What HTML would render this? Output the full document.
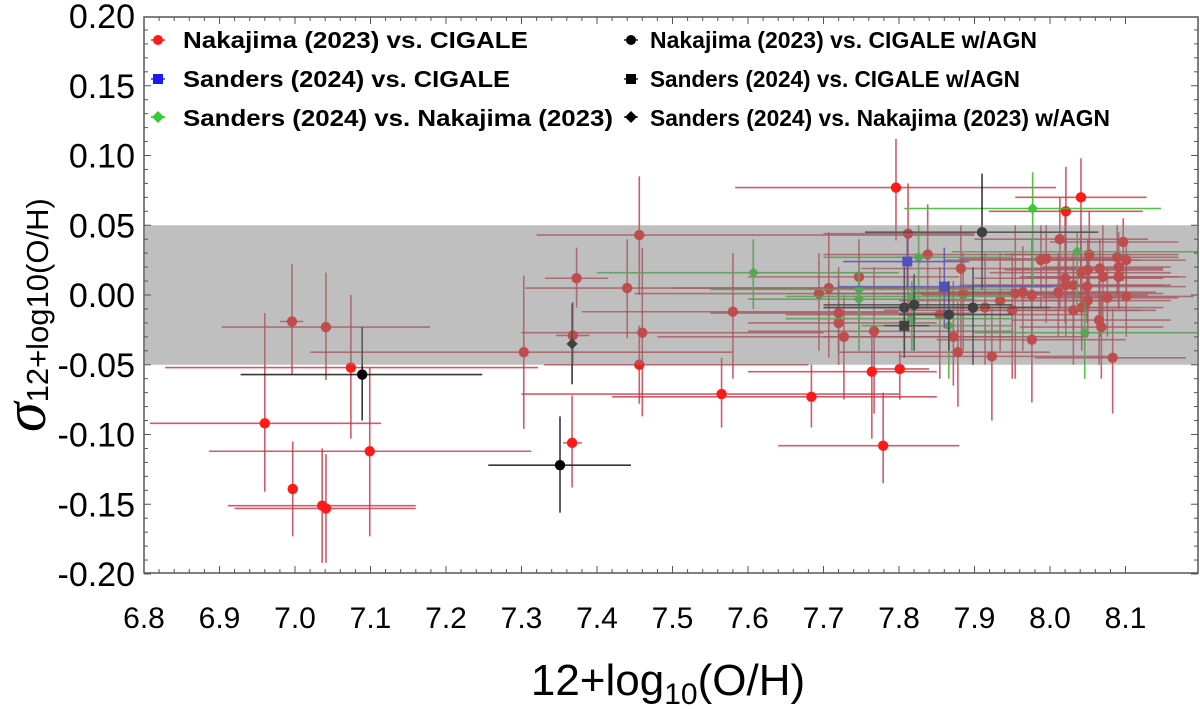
<!DOCTYPE html>
<html><head><meta charset="utf-8">
<style>
html,body{margin:0;padding:0;background:#fff;}
svg{display:block;font-family:"Liberation Sans",sans-serif;}
</style></head>
<body>
<svg id="chart" width="1200" height="709" viewBox="0 0 1200 709" xmlns="http://www.w3.org/2000/svg">
  <g id="marks"></g>
  <rect id="band" fill="rgba(128,128,128,0.5)"></rect>
  <g id="axes"></g>
  <g id="legend" font-weight="bold" font-size="23" fill="#000">
    <g>
      <line x1="151" y1="40" x2="165" y2="40" stroke="#c83040" stroke-width="1.5"/><circle cx="158" cy="40" r="5" fill="#ff1a1a"/>
      <text x="183" y="48" textLength="345" lengthAdjust="spacingAndGlyphs">Nakajima (2023) vs. CIGALE</text></g>
    <g>
      <line x1="151" y1="79" x2="165" y2="79" stroke="#3030c0" stroke-width="1.5"/><rect x="153" y="74" width="10" height="10" fill="#1a1aff"/>
      <text x="183" y="87" textLength="327" lengthAdjust="spacingAndGlyphs">Sanders (2024) vs. CIGALE</text></g>
    <g>
      <line x1="151" y1="117" x2="165" y2="117" stroke="#30b030" stroke-width="1.5"/><polygon points="158,111 164,117 158,123 152,117" fill="#33cc33"/>
      <text x="183" y="126" textLength="430" lengthAdjust="spacingAndGlyphs">Sanders (2024) vs. Nakajima (2023)</text></g>
    <g>
      <line x1="624" y1="40" x2="638" y2="40" stroke="#222" stroke-width="1.5"/><circle cx="631" cy="40" r="5" fill="#000"/>
      <text x="650" y="48" textLength="387" lengthAdjust="spacingAndGlyphs">Nakajima (2023) vs. CIGALE w/AGN</text></g>
    <g>
      <line x1="624" y1="79" x2="638" y2="79" stroke="#222" stroke-width="1.5"/><rect x="626" y="74" width="10" height="10" fill="#000"/>
      <text x="650" y="87" textLength="370" lengthAdjust="spacingAndGlyphs">Sanders (2024) vs. CIGALE w/AGN</text></g>
    <g>
      <line x1="624" y1="117" x2="638" y2="117" stroke="#222" stroke-width="1.5"/><polygon points="631,111 637,117 631,123 625,117" fill="#000"/>
      <text x="650" y="126" textLength="460" lengthAdjust="spacingAndGlyphs">Sanders (2024) vs. Nakajima (2023) w/AGN</text></g>
  </g>
  <text x="668" y="695" text-anchor="middle" font-size="44">12+log<tspan font-size="30" dy="9">10</tspan><tspan dy="-9">(O/H)</tspan></text>
  <text transform="translate(45,432) rotate(-90)" font-size="31"><tspan font-size="60" font-style="italic" font-family="Liberation Serif, serif">σ</tspan><tspan dy="3">12+log10(O/H)</tspan></text>
</svg>
<script>
// ---- data ----
const nakX  = [6.996,7.041,7.074,6.960,7.099,6.997,7.036,7.041,7.303,7.373,7.368,7.367,7.440,7.456,7.460,7.456,
  7.580,7.694,7.707,7.747,7.720,7.720,7.727,7.767,7.838,7.882,7.885,7.854,7.872,7.878,7.914,7.934,7.950,7.954,7.964,7.976,7.976,7.923,7.988,7.995,8.013,8.011,8.020,8.021,8.031,8.031,8.041,8.050,8.052,8.042,8.049,8.050,8.066,8.070,8.076,8.065,8.068,8.089,8.091,8.097,8.101,8.091,8.101,8.083,7.812,
  7.796,8.041,8.021,7.565,7.684,7.764,7.801,7.779];
const nakY  = [-0.019,-0.023,-0.052,-0.092,-0.112,-0.139,-0.151,-0.153,-0.041,0.012,-0.029,-0.106,0.005,0.043,-0.027,-0.050,
  -0.012,0.001,0.005,0.013,-0.013,-0.020,-0.030,-0.026,0.029,0.019,0.001,-0.014,-0.030,-0.041,-0.009,-0.004,-0.011,0.001,0.002,0.000,-0.032,-0.044,0.025,0.026,0.040,0.002,0.012,0.007,0.007,-0.011,0.016,0.018,0.029,-0.009,0.006,-0.004,0.019,0.013,-0.002,-0.018,-0.023,0.027,0.020,0.038,0.025,0.013,-0.001,-0.045,0.044,
  0.077,0.070,0.060,-0.071,-0.073,-0.055,-0.053,-0.108];
const nakXlo = [6.980,6.903,6.828,6.808,6.886,6.992,6.911,6.920,7.020,7.331,7.346,7.355,7.305,7.320,7.300,7.330,
  7.380,7.450,7.500,7.600,7.550,7.600,7.480,7.600,7.700,7.750,7.700,7.650,7.700,7.720,7.700,7.800,7.780,7.780,7.820,7.830,7.850,7.800,7.860,7.880,7.900,7.850,7.900,7.880,7.900,7.920,7.920,7.940,7.940,7.930,7.900,7.940,7.950,7.960,7.960,7.950,7.960,7.980,7.990,8.000,7.990,7.970,7.990,7.980,7.700,
  7.583,7.954,7.919,7.300,7.420,7.600,7.760,7.640];
const nakXhi = [7.011,7.179,7.322,7.114,7.313,7.002,7.160,7.160,7.580,7.415,7.390,7.380,7.800,7.900,7.700,7.680,
  7.800,7.850,7.900,7.880,7.900,7.850,7.950,7.950,8.000,8.050,8.050,8.050,8.050,8.000,8.100,8.100,8.120,8.150,8.100,8.130,8.100,8.080,8.120,8.100,8.130,8.140,8.150,8.150,8.160,8.140,8.160,8.150,8.170,8.150,8.180,8.160,8.150,8.170,8.170,8.160,8.150,8.170,8.160,8.170,8.180,8.180,8.190,8.180,7.900,
  8.008,8.128,8.123,7.800,7.850,7.850,7.840,7.880];
const nakYhi = [0.022,0.016,0.000,-0.013,-0.052,-0.105,-0.110,-0.114,0.014,0.034,-0.005,-0.072,0.040,0.085,0.034,-0.022,
  0.030,0.030,0.045,0.040,0.020,0.010,0.000,0.020,0.065,0.050,0.030,0.020,0.010,-0.005,0.030,0.030,0.030,0.050,0.035,0.040,0.000,-0.010,0.050,0.050,0.070,0.030,0.060,0.040,0.030,0.020,0.050,0.040,0.060,0.020,0.030,0.020,0.040,0.050,0.020,0.010,0.000,0.050,0.045,0.055,0.040,0.030,0.020,-0.010,0.080,
  0.112,0.098,0.092,-0.045,-0.050,-0.030,-0.040,-0.070];
const nakYlo = [-0.057,-0.061,-0.103,-0.141,-0.173,-0.173,-0.192,-0.192,-0.096,-0.009,-0.050,-0.138,-0.031,0.000,-0.087,-0.078,
  -0.060,-0.040,-0.045,-0.020,-0.050,-0.040,-0.075,-0.085,-0.010,-0.040,-0.040,-0.060,-0.065,-0.080,-0.050,-0.040,-0.060,-0.060,-0.040,-0.035,-0.077,-0.090,-0.010,-0.020,-0.010,-0.030,-0.020,-0.030,-0.030,-0.050,-0.010,-0.020,-0.010,-0.040,-0.020,-0.030,-0.030,-0.020,-0.030,-0.050,-0.060,0.000,-0.010,0.010,0.000,-0.010,-0.030,-0.085,-0.020,
  0.039,0.004,0.004,-0.095,-0.095,-0.103,-0.075,-0.135];

const sanNakX  = [7.607,7.747,7.747,7.826,7.817,7.817,7.866,7.977,8.036,8.046];
const sanNakY  = [0.016,0.004,-0.003,0.027,-0.001,-0.017,-0.022,0.062,0.031,-0.027];
const sanNakXlo = [7.400,7.550,7.600,7.700,7.650,7.650,7.750,7.807,7.870,7.900];
const sanNakXhi = [7.800,7.950,7.900,7.950,7.950,7.950,7.950,8.147,8.200,8.200];
const sanNakYhi = [0.040,0.020,0.015,0.050,0.010,-0.005,-0.010,0.088,0.045,-0.005];
const sanNakYlo = [-0.010,-0.030,-0.040,-0.010,-0.020,-0.040,-0.060,0.006,-0.010,-0.060];

const sanCigX  = [7.811,7.860];
const sanCigY  = [0.024,0.006];
const sanCigXlo = [7.726,7.719];
const sanCigXhi = [7.893,8.004];
const sanCigYhi = [0.042,0.034];
const sanCigYlo = [0.006,-0.024];

const nakAgnX  = [7.089,7.351,7.910,7.807,7.820,7.866,7.898];
const nakAgnY  = [-0.057,-0.122,0.045,-0.009,-0.007,-0.014,-0.009];
const nakAgnXlo = [6.928,7.256,7.755,7.700,7.700,7.800,7.750];
const nakAgnXhi = [7.248,7.445,8.064,7.900,7.950,7.950,8.000];
const nakAgnYhi = [-0.023,-0.087,0.087,0.020,0.015,0.010,0.020];
const nakAgnYlo = [-0.090,-0.156,0.004,-0.040,-0.040,-0.040,-0.050];

const sanCigAgnX = [7.807], sanCigAgnY = [-0.022], sanCigAgnXlo = [7.780], sanCigAgnXhi = [7.840], sanCigAgnYhi = [-0.005], sanCigAgnYlo = [-0.045];
const sanNakAgnX = [7.367], sanNakAgnY = [-0.035], sanNakAgnXlo = [7.360], sanNakAgnXhi = [7.374], sanNakAgnYhi = [-0.006], sanNakAgnYlo = [-0.064];

const xTicks = ["6.8","6.9","7.0","7.1","7.2","7.3","7.4","7.5","7.6","7.7","7.8","7.9","8.0","8.1"];
const yTicks = ["-0.20","-0.15","-0.10","-0.05","0.00","0.05","0.10","0.15","0.20"];
const bandLo = -0.05, bandHi = 0.05;

// ---- axes ----
const L=144, R=1198, T=15, B=573;
const xs = v => L + (v-6.8)*755;
const ys = v => 295 - v*1395;
const NS="http://www.w3.org/2000/svg";
function mk(tag, attrs, parent){const e=document.createElementNS(NS,tag);for(const k in attrs)e.setAttribute(k,attrs[k]);parent.appendChild(e);return e;}

const band=document.getElementById('band');
band.setAttribute('x',L+1);band.setAttribute('width',R-L-2);
band.setAttribute('y',ys(bandHi));band.setAttribute('height',ys(bandLo)-ys(bandHi));

const marks=document.getElementById('marks');
function series(name,X,Y,Xlo,Xhi,Ylo,Yhi,ecol,fcol,shape){
  const g=mk('g',{},marks);
  
  
  for(let i=0;i<X.length;i++){
    const cx=xs(X[i]), cy=ys(Y[i]);
    const h=mk('line',{x1:Math.max(L,xs(Xlo[i])),x2:Math.min(R,xs(Xhi[i])),y1:cy,y2:cy,stroke:ecol,'stroke-width':1.6},g);
    
    
    const v=mk('line',{x1:cx,x2:cx,y1:ys(Yhi[i]),y2:ys(Ylo[i]),stroke:ecol,'stroke-width':1.6},g);
    
    
  }
  for(let i=0;i<X.length;i++){
    const cx=xs(X[i]), cy=ys(Y[i]); let m;
    if(shape==='c') m=mk('circle',{cx:cx,cy:cy,r:5.2,fill:fcol},g);
    else if(shape==='s') m=mk('rect',{x:cx-5,y:cy-5,width:10,height:10,fill:fcol},g);
    else m=mk('polygon',{points:`${cx},${cy-5.5} ${cx+5.5},${cy} ${cx},${cy+5.5} ${cx-5.5},${cy}`,fill:fcol},g);
    
    
  }
}
series('series-nakajima-cigale',nakX,nakY,nakXlo,nakXhi,nakYlo,nakYhi,'rgba(200,50,65,0.8)','#ff1a1a','c');
series('series-sanders-nakajima',sanNakX,sanNakY,sanNakXlo,sanNakXhi,sanNakYlo,sanNakYhi,'rgba(60,190,50,0.9)','#33cc33','d');
series('series-sanders-cigale',sanCigX,sanCigY,sanCigXlo,sanCigXhi,sanCigYlo,sanCigYhi,'rgba(60,60,220,0.9)','#2020ff','s');
series('series-nakajima-cigale-agn',nakAgnX,nakAgnY,nakAgnXlo,nakAgnXhi,nakAgnYlo,nakAgnYhi,'rgba(20,20,20,0.85)','#000','c');
series('series-sanders-cigale-agn',sanCigAgnX,sanCigAgnY,sanCigAgnXlo,sanCigAgnXhi,sanCigAgnYlo,sanCigAgnYhi,'rgba(20,20,20,0.85)','#000','s');
series('series-sanders-nakajima-agn',sanNakAgnX,sanNakAgnY,sanNakAgnXlo,sanNakAgnXhi,sanNakAgnYlo,sanNakAgnYhi,'rgba(20,20,20,0.85)','#000','d');

const axes=document.getElementById('axes');
const frame=mk('rect',{x:L,y:17,width:R-L,height:B-17,fill:'none',stroke:'#555','stroke-width':1.5},axes);


for(let k=0;k<=65;k++){const v=6.8+k*0.02, x=xs(v); if(x>R)break; const len=(k%5===0)?7:4;
  mk('line',{x1:x,x2:x,y1:B,y2:B-len,stroke:'#555','stroke-width':1},axes);
  mk('line',{x1:x,x2:x,y1:17,y2:17+len,stroke:'#555','stroke-width':1},axes);}
for(let k=0;k<=40;k++){const v=-0.2+k*0.01, y=ys(v); if(y<17)continue; const len=(k%5===0)?7:4;
  mk('line',{x1:L,x2:L+len,y1:y,y2:y,stroke:'#555','stroke-width':1},axes);
  mk('line',{x1:R,x2:R-len,y1:y,y2:y,stroke:'#555','stroke-width':1},axes);}
xTicks.forEach(t=>{const tx=mk('text',{x:xs(parseFloat(t)),y:628,'text-anchor':'middle','font-size':30,fill:'#000'},axes);tx.textContent=t;
  
  });
yTicks.forEach(t=>{const tx=mk('text',{x:135,y:ys(parseFloat(t))+12,'text-anchor':'end','font-size':34,fill:'#000'},axes);tx.textContent=t;
  
  });
</script>
</body></html>
